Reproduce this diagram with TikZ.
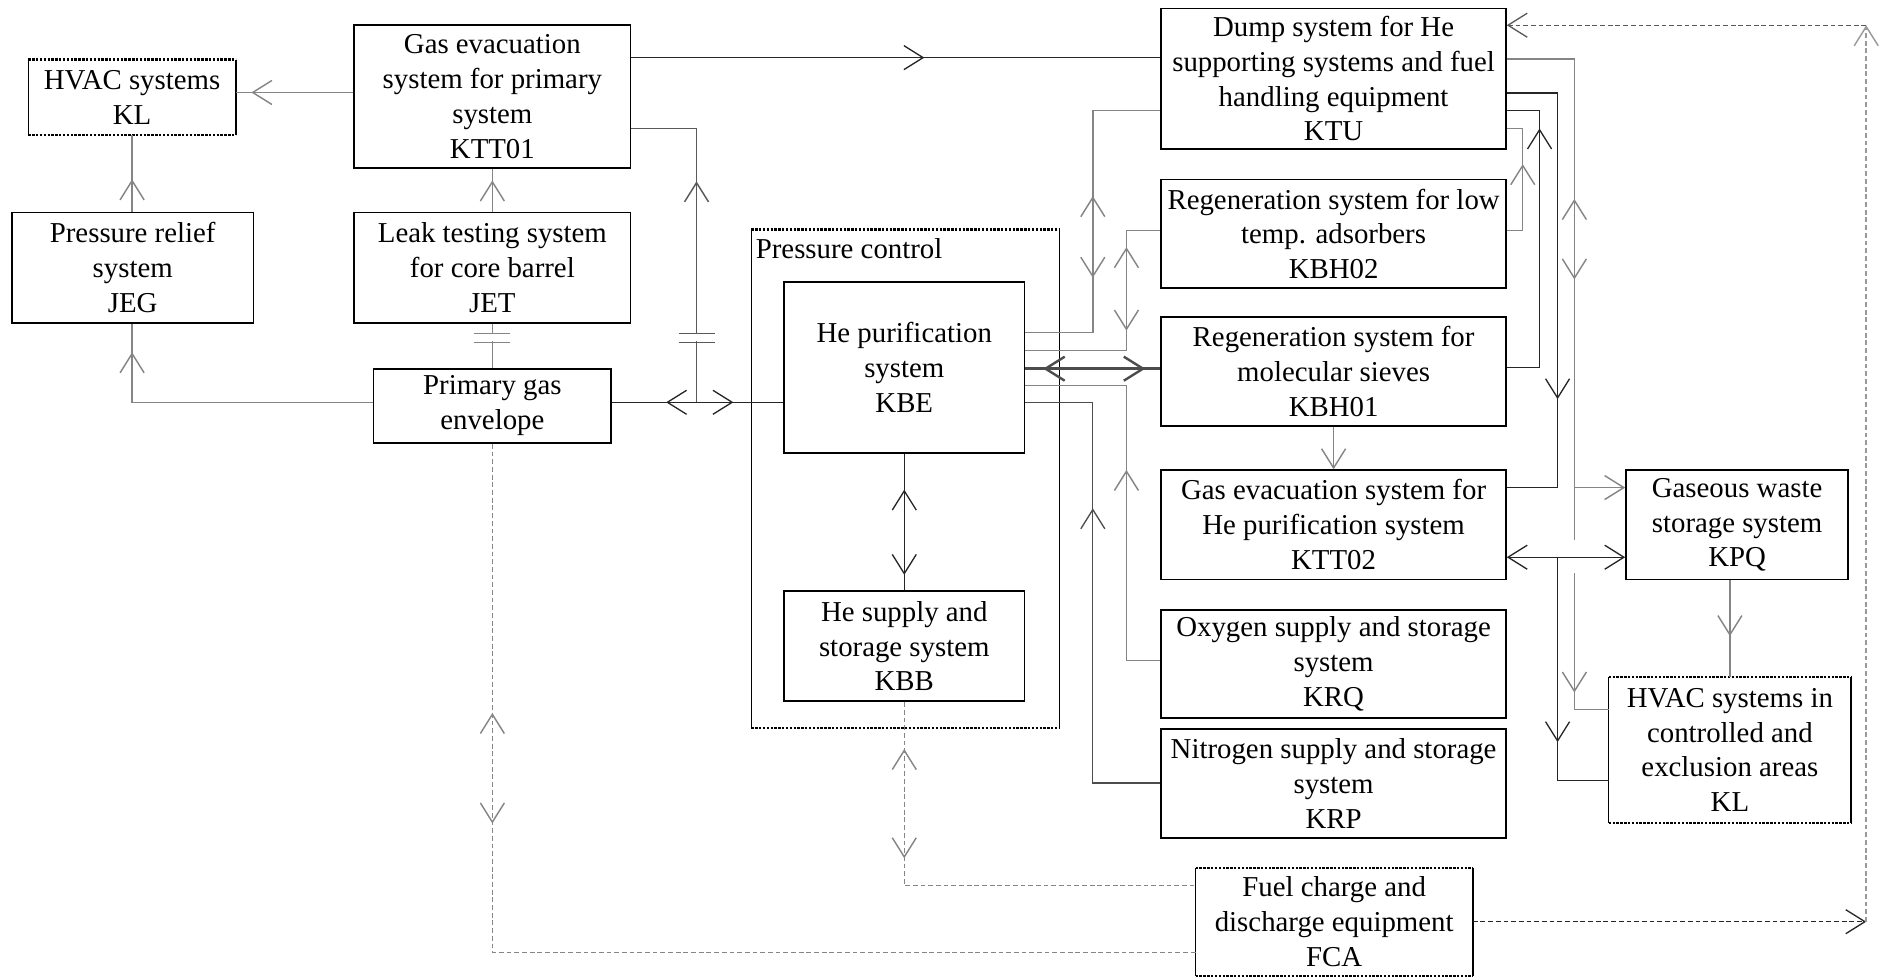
\documentclass[tikz,border=0pt]{standalone}
\usepackage{fontspec}
\setmainfont{Liberation Serif}
\usetikzlibrary{arrows.meta,decorations.markings,calc}
\newcommand\dottedframe[1]{%
  \draw[line width=0.9pt,dash pattern=on 1pt off 0.6pt] (#1.north west) -- (#1.north east) (#1.south west) -- (#1.south east);
  \draw[line width=0.6pt] (#1.north west) -- (#1.south west) (#1.north east) -- (#1.south east);}
\begin{document}
\begin{tikzpicture}[x=0.5pt,y=-0.5pt,
  >={Straight Barb[length=8pt,width=10pt]},
  txt/.style={align=center,inner sep=0pt,font=\fontsize{12pt}{14.5pt}\selectfont},
  box/.style={txt,draw,line width=0.7pt},
  dnode/.style={txt},
  ln/.style={draw=black!85,line width=0.55pt},
  lg/.style={draw=black!48,line width=0.6pt},
  dsh/.style={dash pattern=on 2pt off 1.2pt},
  mk/.style={postaction={decorate,decoration={markings,mark=at position #1 with {\arrow{>}}}}},
  mkr/.style={postaction={decorate,decoration={markings,mark=at position #1 with {\arrowreversed{>}}}}},
]
\useasboundingbox (0,0) rectangle (1568,814);

% ---------- nodes ----------
\node[dnode,minimum width=86pt,minimum height=31pt] (hvac1) at (110,81) {HVAC systems\\KL};
\node[box,minimum width=100.5pt,minimum height=46pt] (jeg) at (110.5,223) {Pressure relief\\system\\JEG};
\node[box,minimum width=115pt,minimum height=59.5pt] (ktt01) at (410,80.5) {Gas evacuation\\system for primary\\system\\KTT01};
\node[box,minimum width=115pt,minimum height=46pt] (jet) at (410,223) {Leak testing system\\for core barrel\\JET};
\node[box,minimum width=99pt,minimum height=31pt] (pge) at (410,338) {Primary gas\\envelope};
\node[minimum width=128pt,minimum height=207.25pt,inner sep=0pt] (pc) at (754,398.75) {};
\node[txt,anchor=base west] (pclabel) at (629,215.5) {Pressure control};
\node[box,minimum width=100pt,minimum height=71pt] (kbe) at (753,306) {He purification\\system\\KBE};
\node[box,minimum width=100pt,minimum height=46pt] (kbb) at (753,538) {He supply and\\storage system\\KBB};
\node[box,minimum width=143.5pt,minimum height=58.5pt] (ktu) at (1110.5,65.5) {Dump system for He\\supporting systems and fuel\\handling equipment\\KTU};
\node[box,minimum width=143.5pt,minimum height=45.25pt] (kbh02) at (1110.5,194.75) {Regeneration system for low\\temp. adsorbers\\KBH02};
\node[box,minimum width=143.5pt,minimum height=45.5pt] (kbh01) at (1110.5,309.5) {Regeneration system for\\molecular sieves\\KBH01};
\node[box,minimum width=143.5pt,minimum height=45.5pt] (ktt02) at (1110.5,437) {Gas evacuation system for\\He purification system\\KTT02};
\node[box,minimum width=143.5pt,minimum height=45pt] (krq) at (1110.5,553) {Oxygen supply and storage\\system\\KRQ};
\node[box,minimum width=143.5pt,minimum height=45.5pt] (krp) at (1110.5,652.5) {Nitrogen supply and storage\\system\\KRP};
\node[box,minimum width=92.5pt,minimum height=45.5pt] (kpq) at (1446.5,437) {Gaseous waste\\storage system\\KPQ};
\node[dnode,minimum width=100.5pt,minimum height=60.5pt] (hvac2) at (1440.5,624.5) {HVAC systems in\\controlled and\\exclusion areas\\KL};
\node[dnode,minimum width=115pt,minimum height=44.5pt] (fca) at (1111,767.5) {Fuel charge and\\discharge equipment\\FCA};

\dottedframe{hvac1}
\dottedframe{pc}
\dottedframe{hvac2}
\dottedframe{fca}

% ---------- connectors, left part ----------
\draw[lg,mk=42.5pt] (ktt01.west |- 0,77) -- (hvac1.east |- 0,77);
\draw[lg,mk=13.5pt] (jeg.north -| 110,0) -- (hvac1.south -| 110,0);
\draw[lg,mk=121pt] (pge.west |- 0,335) -| (jeg.south -| 110,0);
\draw[lg,mk=13pt] (jet.north) -- (ktt01.south);
\draw[lg] (pge.north) -- (jet.south);
\fill[white] (402,278.5) rectangle (418,284);
\draw[lg] (395,277.5) -- (425,277.5) (395,285) -- (425,285);

\coordinate (j1) at (580,335);
\draw[draw=black!65,line width=0.6pt,mk=92pt] (j1) |- (ktt01.east |- 0,107);
\fill[white] (572,278.5) rectangle (588,284);
\draw[black!65,line width=0.6pt] (565,277.5) -- (595,277.5) (565,285) -- (595,285);
\draw[ln,mkr=22.5pt,mk=50.5pt] (pge.east |- 0,335) -- (kbe.west |- 0,335);
\draw[ln,mk=122pt] (ktt01.east |- 0,48) -- (ktu.west |- 0,48);

% dashed links to fuel charge equipment
\draw[lg,dsh,mkr=112pt,mk=158pt] (pge.south) |- (fca.west |- 0,793);
\draw[lg,dsh,mkr=19.5pt,mk=65pt] (kbb.south) |- (fca.west |- 0,737.5);
\coordinate (c1) at (1554,767.5);
\coordinate (c2) at (1554,21);
\draw[draw=black!85,line width=0.55pt,dsh,->] (fca.east) -- (c1);
\draw[draw=black!40,line width=0.6pt,dsh,->] (c1) -- (c2);
\draw[draw=black!65,line width=0.55pt,dsh,->] (c2) -- (ktu.east |- c2);

% ---------- He purification system links ----------
\draw[ln,mkr=15pt,mk=50.5pt] (kbe.south) -- (kbb.north);
\draw[lg,mk=85pt,mkr=51pt] (kbe.east |- 0,277) -| (910,92) -- (ktu.west |- 0,92);
\draw[lg,mk=85.25pt,mkr=50.5pt] (kbe.east |- 0,292) -| (938,192) -- (kbh02.west |- 0,192);
\draw[draw=black!70,line width=1pt,mkr=7.5pt,mk=50pt] (kbe.east |- 0,307) -- (kbh01.west |- 0,307);
\draw[lg,mk=93.5pt] (krq.west |- 0,550) -| (938,321) -- (kbe.east |- 0,321);
\draw[draw=black!70,line width=0.55pt,mk=142.5pt] (krp.west |- 0,652) -| (910,335) -- (kbe.east |- 0,335);

% ---------- right part ----------
\draw[lg,mkr=86.5pt,mk=120pt,mk=292pt] (ktu.east |- 0,49) -| (1311,591) -- (hvac2.west |- 0,591);
\coordinate (j3) at (1311,406);
\draw[lg,->] (j3) -- (kpq.west |- j3);
\draw[ln,mk=148.6pt] (ktu.east |- 0,77.5) -| (1297,406) -- (ktt02.east |- 0,406);
\draw[ln,mk=113.15pt] (kbh01.east |- 0,306) -| (1282,92) -- (ktu.east |- 0,92);
\draw[lg,mk=34.3pt] (kbh02.east |- 0,192) -| (1268,107) -- (ktu.east |- 0,107);
\draw[white,line width=2.5pt] (1311,450) -- (1311,477);
\draw[ln,<->] (ktt02.east |- 0,464) -- (kpq.west |- 0,464);
\coordinate (j4) at (1297,464);
\draw[ln,mk=77pt] (j4) |- (hvac2.west |- 0,650);
\draw[lg,->] (kbh01.south) -- (ktt02.north);
\draw[lg,mk=23.25pt] (kpq.south -| hvac2.north) -- (hvac2.north);
\end{tikzpicture}
\end{document}
